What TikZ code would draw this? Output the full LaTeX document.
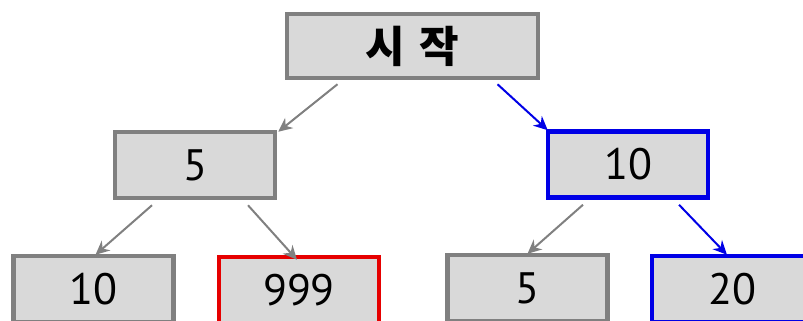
\documentclass[tikz,border=0pt]{standalone}
\usepackage{fontspec}
\setmainfont{PT Sans}
\newfontfamily\krfont{Noto Sans CJK KR}
\usetikzlibrary{arrows.meta,calc}
\definecolor{boxfill}{HTML}{D9D9D9}
\definecolor{boxgray}{HTML}{808080}
\definecolor{pathblue}{HTML}{0000E6}
\definecolor{pathred}{HTML}{E60000}
\tikzset{
  treebox/.style={draw=boxgray, fill=boxfill, line width=4.5pt, minimum width=160pt, minimum height=66pt, inner sep=0pt, font=\fontsize{44}{44}\selectfont},
  bluebox/.style={treebox, draw=pathblue, line width=4.5pt},
  redbox/.style={treebox, draw=pathred, line width=4.5pt},
  grayarrow/.style={draw=boxgray, line width=2pt, -{Stealth[length=14pt,width=13pt]}},
  bluearrow/.style={draw=pathblue, line width=2pt, -{Stealth[length=14pt,width=13pt]}}
}
\begin{document}
\begin{tikzpicture}[x=1pt,y=-1pt]
\useasboundingbox (0,0) rectangle (803,321);
\clip (0,0) rectangle (803,321);
\node[treebox, minimum width=251pt, minimum height=64pt, font=\krfont\bfseries\fontsize{43}{43}\selectfont] (root) at (412.5,46) {시\hspace{15pt}작};
\node[treebox] (a) at (195,165) {5};
\node[bluebox] (b) at (628,164.5) {10};
\node[treebox] (c) at (93.5,289) {10};
\node[redbox] (d) at (299,290) {999};
\node[treebox] (e) at (527.5,288) {5};
\node[bluebox] (f) at (732,289) {20};
\draw[grayarrow] ([xshift=-75pt,yshift=-4pt]root.south) -- ([xshift=1pt,yshift=-2pt]a.north east);
\draw[bluearrow] ([xshift=85pt,yshift=-4pt]root.south) -- ([xshift=2pt,yshift=-1pt]b.north west);
\draw[grayarrow] ([xshift=-43pt,yshift=-5pt]a.south) -- ([xshift=2pt,yshift=-1pt]c.north);
\draw[grayarrow] ([xshift=53pt,yshift=-5pt]a.south) -- ([xshift=-2pt,yshift=-5pt]d.north);
\draw[grayarrow] ([xshift=-45pt,yshift=-5pt]b.south) -- ([xshift=0pt,yshift=-1pt]e.north);
\draw[bluearrow] ([xshift=51pt,yshift=-5pt]b.south) -- ([xshift=-5pt,yshift=-1pt]f.north);
\end{tikzpicture}
\end{document}
